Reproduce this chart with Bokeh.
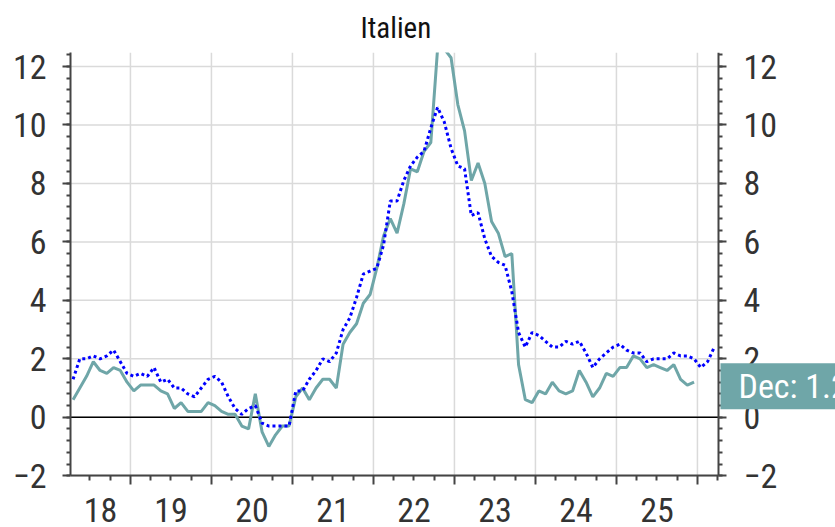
import numpy as np
import pandas as pd
from bokeh.plotting import figure
from bokeh.models import (LinearAxis, FixedTicker, CustomJSTickFormatter, Label, Range1d)
from bokeh.embed import file_html
from bokeh.resources import INLINE

# ---------------- data ----------------
title_text = "Italien"

italy_first_month = "2018-04"
italy_hicp = [
    0.6, 1.0, 1.4, 1.9, 1.6, 1.5, 1.7, 1.6, 1.2,                 # 2018 Apr-Dec
    0.9, 1.1, 1.1, 1.1, 0.9, 0.8, 0.3, 0.5, 0.2, 0.2, 0.2, 0.5,  # 2019
    0.4, 0.2, 0.1, 0.1, -0.3, -0.4, 0.8, -0.5, -1.0, -0.6, -0.3, -0.3,  # 2020
    0.7, 1.0, 0.6, 1.0, 1.3, 1.3, 1.0, 2.5, 2.9, 3.2, 3.9, 4.2,  # 2021
    5.1, 6.2, 6.8, 6.3, 7.3, 8.5, 8.4, 9.1, 9.4, 12.6, 12.6, 12.3,  # 2022
    10.7, 9.8, 8.1, 8.7, 8.0, 6.7, 6.3, 5.5, 5.6, 1.8, 0.6, 0.5,  # 2023
    0.9, 0.8, 1.2, 0.9, 0.8, 0.9, 1.6, 1.2, 0.7, 1.0, 1.5, 1.4,  # 2024
    1.7, 1.7, 2.1, 2.0, 1.7, 1.8, 1.7, 1.6, 1.8, 1.3, 1.1, 1.2,  # 2025
]

euro_first_month = "2018-04"
euro_hicp = [
    1.3, 2.0, 2.0, 2.1, 2.0, 2.1, 2.3, 1.9, 1.5,                 # 2018 Apr-Dec
    1.4, 1.5, 1.4, 1.7, 1.2, 1.3, 1.0, 1.0, 0.8, 0.7, 1.0, 1.3,  # 2019
    1.4, 1.2, 0.7, 0.3, 0.1, 0.3, 0.4, -0.2, -0.3, -0.3, -0.3, -0.3,  # 2020
    0.9, 0.9, 1.3, 1.6, 2.0, 1.9, 2.2, 3.0, 3.4, 4.1, 4.9, 5.0,  # 2021
    5.1, 5.9, 7.4, 7.4, 8.1, 8.6, 8.9, 9.1, 9.9, 10.6, 10.1, 9.2,  # 2022
    8.6, 8.5, 6.9, 7.0, 6.1, 5.5, 5.3, 5.2, 4.3, 2.9, 2.4, 2.9,  # 2023
    2.8, 2.6, 2.4, 2.4, 2.6, 2.5, 2.6, 2.2, 1.7, 2.0, 2.2, 2.4,  # 2024
    2.5, 2.3, 2.2, 2.2, 1.9, 2.0, 2.0, 2.0, 2.2, 2.1, 2.1, 2.0,  # 2025
    1.7, 1.9, 2.4,                                               # 2026 Jan-Mar
]

y_tick_values = [-2, 0, 2, 4, 6, 8, 10, 12]
year_tick_labels = ["18", "19", "20", "21", "22", "23", "24", "25"]
first_label_year = 2018
last_month_name = "Dec"

# ---------------- helpers ----------------
def decimal_months(first, n):
    d = pd.date_range(first, periods=n, freq="MS")
    return (d.year + (d.month - 0.5) / 12.0).to_numpy()

x_it = decimal_months(italy_first_month, len(italy_hicp))
x_eu = decimal_months(euro_first_month, len(euro_hicp))

# visible chart box (data units) and its pixel layout
X0, X1 = 2018.26, 2026.26
Y0, Y1 = -2.0, 12.48
W, H = 835, 527
LEFT, TOP = 70, 50           # frame origin in pixels
BOX_W, BOX_H = 648, 425      # size of the axes box in pixels
# the frame runs to the canvas edges so that the right axis, the year labels and
# the end label (all drawn outside the axes box) are not clipped
px_x = BOX_W / (X1 - X0)
px_y = BOX_H / (Y1 - Y0)
XR = X0 + (W - LEFT) / px_x
YB = Y1 - (H - TOP) / px_y

FONT = "'Roboto Condensed', 'Noto Sans Condensed', 'Liberation Sans Narrow', 'DejaVu Sans Condensed', sans-serif"
TEAL = "#6fa6a8"
AXIS_COLOR = "#444444"
LABEL_COLOR = "#333333"
GRID_COLOR = "#dadada"

p = figure(width=W, height=H, output_backend="svg", toolbar_location=None,
           x_range=Range1d(X0, XR), y_range=Range1d(YB, Y1),
           x_axis_type=None, y_axis_type=None,
           min_border_left=LEFT, min_border_right=0, min_border_top=TOP, min_border_bottom=0)
p.outline_line_color = None
p.background_fill_color = "white"
p.border_fill_color = "white"

p.title.text = title_text
p.title.align = "left"
p.title.offset = 290
p.title.text_font = FONT
p.title.text_font_size = "29px"
p.title.text_font_style = "normal"
p.title.text_color = "#111111"
p.title.standoff = 16

# tickers
year_bounds = [y for y in range(2019, 2027) if X0 <= y <= X1]
quarters = [y + q / 4 for y in range(2018, 2027) for q in (1, 2, 3) if X0 <= y + q / 4 <= X1]
label_pos = []
for i, _ in enumerate(year_tick_labels):
    yr = first_label_year + i
    lo, hi = max(yr, X0), min(yr + 1, X1)
    label_pos.append((lo + hi) / 2)

y_minor = [round(v, 2) for v in np.arange(-2.0, 12.5, 0.4) if v <= Y1]
year_ticker = FixedTicker(ticks=year_bounds, minor_ticks=quarters)
y_ticker = FixedTicker(ticks=y_tick_values, minor_ticks=y_minor)

# grid lines, limited to the axes box
p.segment(x0=year_bounds, x1=year_bounds, y0=[Y0] * len(year_bounds), y1=[Y1] * len(year_bounds),
          line_color=GRID_COLOR, line_width=1.5)
p.segment(x0=[X0] * len(y_tick_values), x1=[X1] * len(y_tick_values), y0=y_tick_values, y1=y_tick_values,
          line_color=GRID_COLOR, line_width=1.5)
# zero line
p.segment(x0=[X0], x1=[X1], y0=[0], y1=[0], line_color="black", line_width=1.5)

def style_axis(ax):
    ax.axis_line_color = AXIS_COLOR
    ax.axis_line_width = 2
    ax.major_tick_line_color = AXIS_COLOR
    ax.minor_tick_line_color = AXIS_COLOR
    ax.major_tick_line_width = 2
    ax.minor_tick_line_width = 2
    ax.major_label_text_font = FONT
    ax.major_label_text_font_size = "34px"
    ax.major_label_text_color = LABEL_COLOR

def style_y(ax, standoff):
    style_axis(ax)
    ax.bounds = (Y0, Y1)
    ax.major_tick_in = 0
    ax.major_tick_out = 8
    ax.minor_tick_in = 0
    ax.minor_tick_out = 4
    ax.major_label_standoff = standoff

left = LinearAxis(ticker=y_ticker)
style_y(left, 16)
p.add_layout(left, "left")

right = LinearAxis(ticker=y_ticker, fixed_location=X1)
style_y(right, 17)
p.add_layout(right, "right")

# x axis: ticks at year boundaries and quarters
xa = LinearAxis(ticker=year_ticker, fixed_location=Y0,
                formatter=CustomJSTickFormatter(code="return ''"))
style_axis(xa)
xa.bounds = (X0, X1)
xa.major_tick_in = 0
xa.major_tick_out = 9
xa.minor_tick_in = 0
xa.minor_tick_out = 5
xa.major_label_standoff = 0
xa.major_label_text_font_size = "0px"
p.add_layout(xa, "below")

# x axis: year labels centred in each (visible) year
xb = LinearAxis(ticker=FixedTicker(ticks=label_pos, minor_ticks=[]), fixed_location=Y0,
                formatter=CustomJSTickFormatter(args=dict(labels=year_tick_labels, first=first_label_year),
                                                code="return labels[Math.floor(tick) - first]"))
style_axis(xb)
xb.axis_line_color = None
xb.major_tick_line_color = None
xb.minor_tick_line_color = None
xb.major_tick_in = 0
xb.major_tick_out = 0
xb.minor_tick_in = 0
xb.minor_tick_out = 0
xb.major_label_standoff = 22
p.add_layout(xb, "below")

# series
p.line(x_it, italy_hicp, line_color=TEAL, line_width=3)
p.line(x_eu, euro_hicp, line_color="#0000ff", line_width=3, line_dash="3 3")

# last value label (padding tuple = left, right, top, bottom)
p.add_layout(Label(x=X1, y=italy_hicp[-1], text=f"{last_month_name}: {italy_hicp[-1]}",
                   x_offset=2, y_offset=-4, text_align="left", text_baseline="middle",
                   text_font=FONT, text_font_size="34px", text_color="white",
                   background_fill_color=TEAL,
                   padding=(18, 30, 3, 3)))

open("out.html", "w").write(file_html(p, INLINE))
